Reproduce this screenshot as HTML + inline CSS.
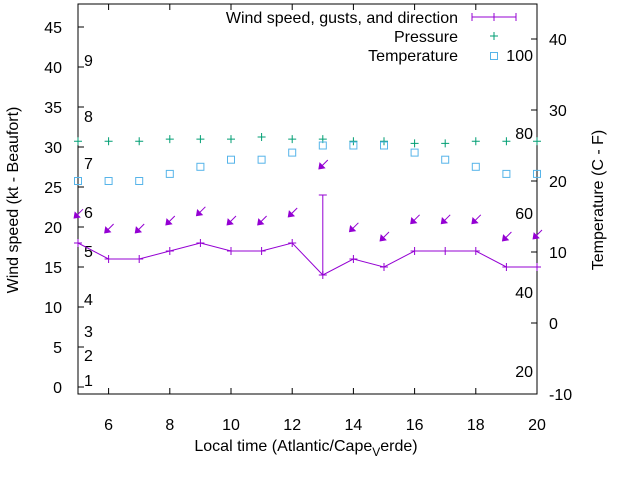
<!DOCTYPE html>
<html><head><meta charset="utf-8"><style>
body{margin:0;background:#fff}
svg text{font-family:"Liberation Sans",sans-serif;font-size:16px;fill:#000}
</style></head><body>
<svg id="c" width="640" height="480" xmlns="http://www.w3.org/2000/svg"></svg>
<script>
const hours=[5,6,7,8,9,10,11,12,13,14,15,16,17,18,19,20];
const windSpeed=[18,16,16,17,18,17,17,18,14,16,15,17,17,17,15,15];
const gustHour=[13];
const gustValue=[24];
const arrowLevel=[21.1,19.25,19.25,20.25,21.4,20.25,20.25,21.25,27.25,19.4,18.25,20.4,20.4,20.4,18.25,18.5];
const pressure=[25.6,25.6,25.6,25.9,25.9,25.9,26.2,25.9,25.9,25.6,25.6,25.3,25.3,25.6,25.6,25.6];
const temperature=[20,20,20,21,22,23,23,24,25,25,25,24,23,22,21,21];
const xTicks=[6,8,10,12,14,16,18,20];
const yLeftTicks=[0,5,10,15,20,25,30,35,40,45];
const yRightTicks=[-10,0,10,20,30,40];
const beaufortLabels=["1","2","3","4","5","6","7","8","9"];
const beaufortY=[380,355,331,299,251,212,163,116,60];
const fahrLabels=["20","40","60","80","100"];
const fahrY=[371,292,213,133,55];

const L=78,R=537,T=4,B=394;
const xs=v=>L+(v-5)/15*(R-L);
const yl=v=>387-v*8;
const yr=v=>394-(v+10)*7.1;
const svg=document.getElementById('c');
const NS='http://www.w3.org/2000/svg';
function mk(tag,attrs,name,txt){const e=document.createElementNS(NS,tag);for(const k in attrs)e.setAttribute(k,attrs[k]);


if(txt!==undefined)e.textContent=txt;svg.appendChild(e);return e;}

mk('rect',{x:L,y:T,width:R-L,height:B-T,fill:'none',stroke:'#000','stroke-width':1},'plot-border');
xTicks.forEach(t=>{const x=xs(t);
mk('line',{x1:x,y1:B,x2:x,y2:B-6,stroke:'#000'},'x-tick');
mk('line',{x1:x,y1:T,x2:x,y2:T+6,stroke:'#000'},'x-tick-top');
mk('text',{x:x,y:430,'text-anchor':'middle'},'x-tick-label',t);});
yLeftTicks.forEach(t=>{const y=yl(t);
mk('line',{x1:L,y1:y,x2:L+6,y2:y,stroke:'#000'},'y-left-tick');
mk('text',{x:L-16,y:y+6,'text-anchor':'end'},'y-left-tick-label',t);});
yRightTicks.forEach(t=>{const y=yr(t);
mk('line',{x1:R,y1:y,x2:R-6,y2:y,stroke:'#000'},'y-right-tick');
mk('text',{x:R+12,y:y+6,'text-anchor':'start'},'y-right-tick-label',t);});
beaufortLabels.forEach((s,i)=>mk('text',{x:84,y:beaufortY[i]+6},'beaufort-label',s));
fahrLabels.forEach((s,i)=>mk('text',{x:533,y:fahrY[i]+6,'text-anchor':'end'},'fahrenheit-label',s));

mk('text',{x:306,y:451,'text-anchor':'middle'},'x-axis-title','').innerHTML='Local time (Atlantic/Cape<tspan font-size="12" dy="5">V</tspan><tspan dy="-5">erde)</tspan>';
mk('text',{x:18,y:200,'text-anchor':'middle',transform:'rotate(-90 18 200)'},'y-left-axis-title','Wind speed (kt - Beaufort)');
mk('text',{x:603,y:200,'text-anchor':'middle',transform:'rotate(-90 603 200)'},'y-right-axis-title','Temperature (C - F)');

const P='#9400d3',G='#009e73',C='#56b4e9';
pressure.forEach((v,i)=>{const x=xs(hours[i]),y=yr(v);
mk('path',{d:`M${x-4},${y}h8M${x},${y-4}v8`,stroke:G,'stroke-width':1},'pressure-point');});
temperature.forEach((v,i)=>{const x=xs(hours[i]),y=yr(v);
mk('rect',{x:x-3.5,y:y-3.5,width:7,height:7,fill:'none',stroke:C,'stroke-width':1},'temperature-point');});
mk('polyline',{points:hours.map((h,i)=>xs(h)+','+yl(windSpeed[i])).join(' '),fill:'none',stroke:P,'stroke-width':1},'wind-speed-line');
hours.forEach((h,i)=>{const x=xs(h),y=yl(windSpeed[i]);
mk('path',{d:`M${x-4},${y}h8M${x},${y-4}v8`,stroke:P},'wind-speed-point');});
gustHour.forEach((h,i)=>{const x=xs(h),i2=hours.indexOf(h);
mk('path',{d:`M${x},${yl(windSpeed[i2])}V${yl(gustValue[i])}M${x-4},${yl(gustValue[i])}h8`,stroke:P},'gust-bar');});
arrowLevel.forEach((v,i)=>{const tx=xs(hours[i])-4,ty=yl(v);
mk('line',{x1:tx+9,y1:ty-9,x2:tx+2,y2:ty-2,stroke:P},'wind-direction-arrow');
mk('path',{d:`M${tx},${ty}l1,-6l5,5z`,fill:P,stroke:P,'stroke-width':0.8},'wind-direction-arrowhead');});
mk('text',{x:458,y:23,'text-anchor':'end'},'legend-wind-label','Wind speed, gusts, and direction');
mk('path',{d:'M472,17h44M472,13v8M516,13v8M494,13v8',stroke:P},'legend-wind-sample');
mk('text',{x:458,y:42,'text-anchor':'end'},'legend-pressure-label','Pressure');
mk('path',{d:'M490,36h8M494,32v8',stroke:G},'legend-pressure-sample');
mk('text',{x:458,y:61,'text-anchor':'end'},'legend-temperature-label','Temperature');
mk('rect',{x:490.5,y:52.5,width:7,height:7,fill:'none',stroke:C},'legend-temperature-sample');
</script>
</body></html>
